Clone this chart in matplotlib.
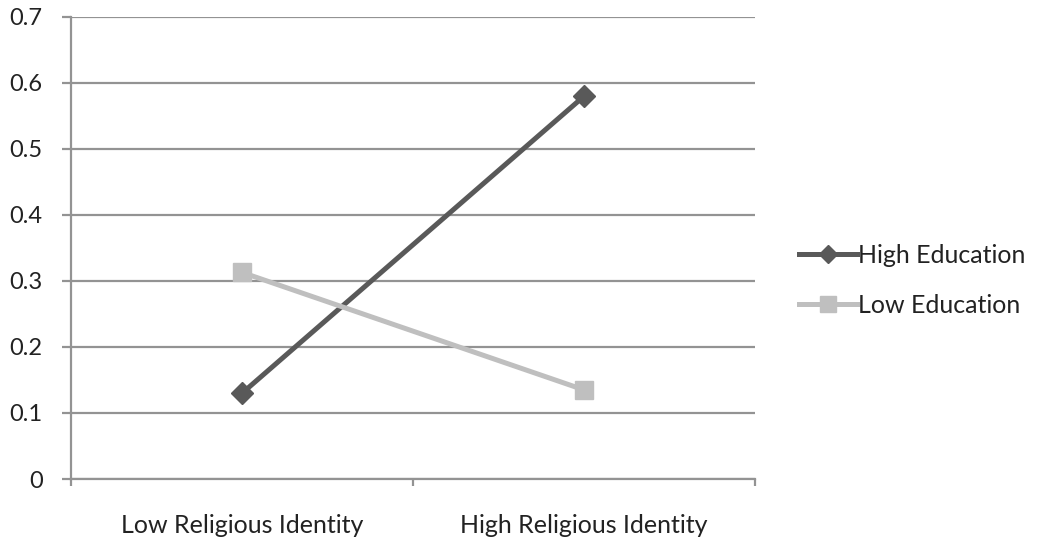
import numpy as np
import matplotlib.pyplot as plt
from matplotlib.ticker import FixedLocator

plt.rcParams['font.family'] = ['Lato', 'DejaVu Sans']

# Predicted values by religious identity and education level
groups = ["Low Religious Identity", "High Religious Identity"]
high_edu = [0.13, 0.58]
low_edu = [0.313, 0.135]

grid_col = "#939393"
text_col = "#222222"

fig = plt.figure(figsize=(10.37, 5.41), dpi=100)
ax = fig.add_axes([0.0685, 0.1146, 0.6596, 0.854])

x = np.arange(len(groups)) + 0.5
ax.plot(x, high_edu, color="#595959", lw=3.6, marker="D", ms=11,
        label="High Education", zorder=3)
ax.plot(x, low_edu, color="#BFBFBF", lw=3.6, marker="s", ms=13,
        label="Low Education", zorder=3)

ax.set_xlim(0, 2)
ax.set_ylim(0, 0.7)
ax.set_yticks(np.arange(0, 0.71, 0.1))
ax.set_yticklabels(["0"] + [f"{v:.1f}" for v in np.arange(0.1, 0.71, 0.1)])
ax.yaxis.grid(True, color=grid_col, lw=1.6)
ax.set_axisbelow(True)

# category labels centred, tick marks on category boundaries
ax.set_xticks(x)
ax.set_xticklabels(groups)
ax.xaxis.set_minor_locator(FixedLocator([0, 1, 2]))
ax.tick_params(axis="x", which="major", length=0, pad=25, labelsize=18, colors=text_col)
ax.tick_params(axis="x", which="minor", length=5, width=1.6, color=grid_col)
ax.tick_params(axis="y", length=6.5, width=1.6, color=grid_col, pad=14,
               labelsize=17, labelcolor=text_col)

for s in ["top", "right"]:
    ax.spines[s].set_visible(False)
for s in ["left", "bottom"]:
    ax.spines[s].set_color(grid_col)
    ax.spines[s].set_linewidth(1.6)

ax.legend(loc="center left", bbox_to_anchor=(1.032, 0.43), frameon=False,
          fontsize=18, handlelength=2.3, handletextpad=0.05, labelspacing=1.1,
          labelcolor=text_col, markerscale=0.85)

fig.savefig("out.png", dpi=100)
